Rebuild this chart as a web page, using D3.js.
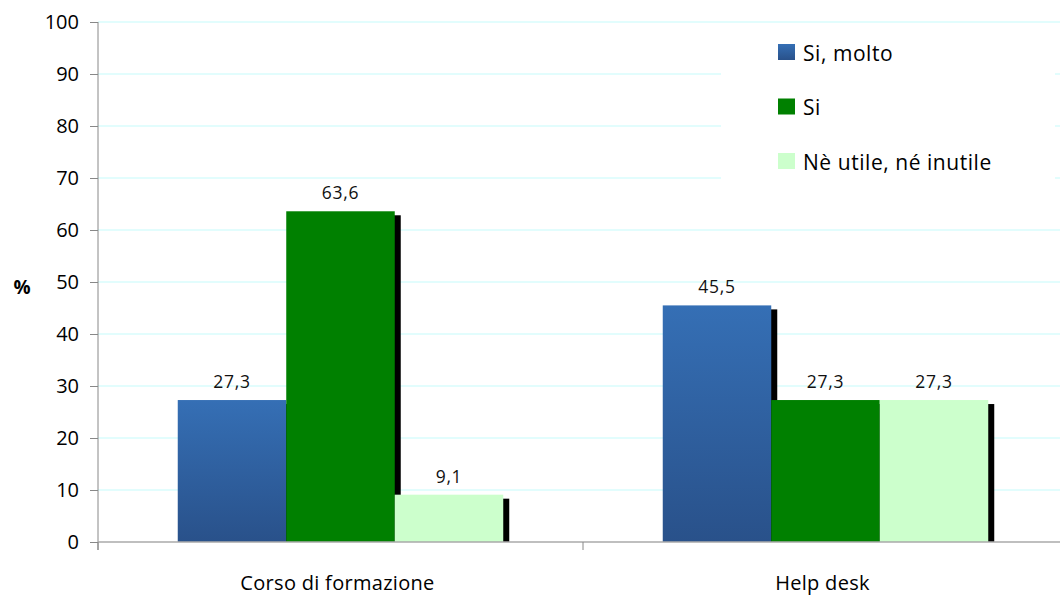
<!DOCTYPE html>
<html><head><meta charset="utf-8">
<script src="https://cdn.jsdelivr.net/npm/d3@7"></script>
<style>body{margin:0;background:#fff}svg{display:block}text{font-family:"Open Sans","Noto Sans",sans-serif}</style>
</head><body><svg id="c" width="1060" height="597"></svg>
<script>
const categories = ["Corso di formazione", "Help desk"];
const seriesNames = ["Si, molto", "Si", "Nè utile, né inutile"];
const siMolto = [27.3, 45.5];
const si = [63.6, 27.3];
const neUtile = [9.1, 27.3];
const yTicks = [0,10,20,30,40,50,60,70,80,90,100];
const seriesValues = [siMolto, si, neUtile];
const fills = ["url(#blueGrad)", "#008000", "#ccffcc"];
const legendFills = ["url(#blueGradL)", "#008000", "#ccffcc"];

const svg = d3.select("#c");
const defs = svg.append("defs");
const g1 = defs.append("linearGradient").attr("id","blueGrad").attr("x1",0).attr("y1",0).attr("x2",0).attr("y2",1);
g1.append("stop").attr("offset","0%").attr("stop-color","#356fb5");
g1.append("stop").attr("offset","100%").attr("stop-color","#29518a");
const g2 = defs.append("linearGradient").attr("id","blueGradL").attr("x1",0).attr("y1",0).attr("x2",0).attr("y2",1);
g2.append("stop").attr("offset","0%").attr("stop-color","#356fb5");
g2.append("stop").attr("offset","100%").attr("stop-color","#29518a");

const mLeft = 98, mRight = 1068, mTop = 22, mBottom = 542;
const y = d3.scaleLinear().domain([0,100]).range([mBottom, mTop]);
const x0 = d3.scaleBand().domain(categories).range([mLeft, mRight]).paddingInner(0).paddingOuter(0);
const x1 = d3.scaleBand().domain(seriesNames).range([0, x0.bandwidth()]).paddingInner(0).paddingOuter(0.735);

// gridlines
svg.append("g").selectAll("line").data(yTicks.filter(d=>d>0)).join("line")
  .attr("x1", mLeft).attr("x2", mRight).attr("y1", d=>y(d)).attr("y2", d=>y(d))
  .attr("stroke", "#d8fcfc").attr("stroke-width", 1.3);

// legend background (covers gridlines)
svg.append("rect").attr("x", 721).attr("y", 29).attr("width", 334).attr("height", 170).attr("fill", "#fff");

// bars
const groups = svg.append("g").selectAll("g").data(categories).join("g")
  .attr("transform", d => `translate(${x0(d)},0)`);
seriesNames.forEach((s, si_) => {
  groups.each(function(cat, ci) {
    const v = seriesValues[si_][ci];
    const gx = x1(s), bw = x1.bandwidth();
    const sel = d3.select(this);
    sel.append("rect").attr("x", gx + 6).attr("y", y(v) + 4).attr("width", bw).attr("height", mBottom - y(v) - 4).attr("fill", "#000");
    sel.append("rect").attr("x", gx).attr("y", y(v)).attr("width", bw).attr("height", mBottom - y(v)).attr("fill", fills[si_]);
  });
});
// value labels
seriesNames.forEach((s, si_) => {
  groups.append("text")
    .attr("x", x1(s) + x1.bandwidth()/2)
    .attr("y", (d,ci) => y(seriesValues[si_][ci]) - 12)
    .attr("text-anchor", "middle").attr("font-size", 17.5).attr("letter-spacing", 0.7).attr("fill", "#111")
    .text((d,ci) => String(seriesValues[si_][ci]).replace(".", ","));
});

// y axis
const yAxis = d3.axisLeft(y).tickValues(yTicks).tickSize(8).tickFormat(d => d);
const ya = svg.append("g").attr("transform", `translate(${mLeft},0)`).call(yAxis);
ya.select(".domain").attr("stroke", "#888").attr("d", `M0,${mTop}V${mBottom+8}`);
ya.selectAll(".tick line").attr("stroke", "#888");
ya.selectAll(".tick text").attr("font-size", 20).attr("fill", "#000").attr("x", -19)
  .style("font-family", '"Open Sans","Noto Sans",sans-serif');

// x axis
svg.append("line").attr("x1", mLeft).attr("x2", mRight).attr("y1", mBottom).attr("y2", mBottom).attr("stroke", "#aaa").attr("stroke-width", 1.5);
svg.append("g").selectAll("line").data([mLeft, mLeft + x0.bandwidth()]).join("line")
  .attr("x1", d=>d).attr("x2", d=>d).attr("y1", mBottom).attr("y2", mBottom + 8).attr("stroke", "#888");
svg.append("g").selectAll("text").data(categories).join("text")
  .attr("x", d => x0(d) + x0.bandwidth()/2 - 3).attr("y", 590)
  .attr("text-anchor", "middle").attr("font-size", 20).attr("letter-spacing", 0.3).attr("fill", "#000").text(d => d);

// % label
svg.append("text").attr("x", 22).attr("y", 294).attr("text-anchor", "middle").attr("font-size", 19).attr("font-weight", "bold").text("%");

// legend
const lg = svg.append("g").selectAll("g").data(seriesNames).join("g")
  .attr("transform", (d,i) => `translate(778,${44 + i*54.5})`);
lg.append("rect").attr("width", 17).attr("height", 16).attr("fill", (d,i) => legendFills[i]);
lg.append("text").attr("x", 25).attr("y", 16.5).attr("font-size", 21).attr("letter-spacing", 0.55).attr("fill", "#000").text(d => d);
</script></body></html>
